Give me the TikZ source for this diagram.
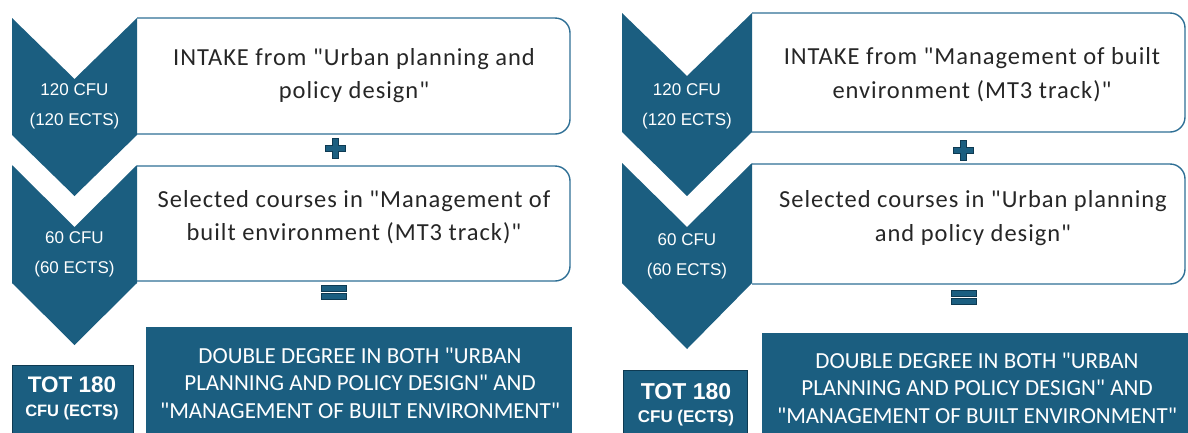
\documentclass[tikz,border=0pt]{standalone}
\usepackage{fontspec}
\setmainfont{Carlito}
\newfontfamily\arialf{Liberation Sans}
\newfontfamily\boxf[LetterSpace=4]{Carlito}
\newfontfamily\ddf{Carlito}
\definecolor{tealblue}{HTML}{1B5E80}
\definecolor{boxline}{HTML}{2E6F95}
\definecolor{darkline}{HTML}{0E3A52}
\definecolor{txtgray}{HTML}{262626}
\begin{document}
\begin{tikzpicture}[x=1pt,y=-1pt,
  chev/.style={fill=tealblue},
  roundbox/.style={draw=boxline,line width=1.4pt,rounded corners=15pt},
  boxtext/.style={text=txtgray,align=center,font=\boxf\fontsize{24.5}{33.5}\selectfont,inner sep=0pt},
  chevtext/.style={text=white,align=center,font=\arialf\fontsize{17}{30}\selectfont,inner sep=0pt},
  ddbox/.style={fill=tealblue},
  ddtext/.style={text=white,align=center,font=\ddf\fontsize{23}{27.5}\selectfont,inner sep=0pt},
  totbox/.style={fill=tealblue,draw=darkline,line width=1pt},
  tottext/.style={text=white,align=center,inner sep=0pt},
  opsym/.style={fill=tealblue,draw=darkline,line width=0.8pt}
]
\useasboundingbox (0,0) rectangle (1188,432);
\clip (0,0) rectangle (1188,432);

% ---------- LEFT PANEL ----------
\draw[roundbox] (137,18) -- (570,18) -- (570,134) -- (137,134);
\draw[roundbox] (137,166) -- (570,166) -- (570,281) -- (137,281);
\fill[chev] (12,18) -- (74.5,79) -- (137,18) -- (137,135) -- (74.5,196) -- (12,135) -- cycle;
\fill[chev] (12,165) -- (74.5,227) -- (137,165) -- (137,283) -- (74.5,345) -- (12,283) -- cycle;
\fill[ddbox] (146,327) rectangle (572,440);
\draw[totbox] (12,365) rectangle (133,440);
% plus
\draw[opsym] (332,138) -- (338,138) -- (338,145) -- (345,145) -- (345,151) -- (338,151) -- (338,158) -- (332,158) -- (332,151) -- (325,151) -- (325,145) -- (332,145) -- cycle;
% equals
\draw[opsym] (321,285) rectangle (346,291);
\draw[opsym] (321,293) rectangle (346,299);

\node[boxtext] (l1t) at (354,75.5) {INTAKE from "Urban planning and\\policy design"};
\node[boxtext] (l2t) at (354,217) {Selected courses in "Management of\\built environment (MT3 track)"};
\node[chevtext] (l1c) at (74.5,106.5) {120 CFU\\(120 ECTS)};
\node[chevtext] (l2c) at (74.5,254) {60 CFU\\(60 ECTS)};
\node[ddtext] (ldd) at (360,383) {DOUBLE DEGREE IN BOTH "URBAN\\PLANNING AND POLICY DESIGN" AND\\"MANAGEMENT OF BUILT ENVIRONMENT"};
\node[tottext,font=\arialf\bfseries\fontsize{22.5}{26}\selectfont] (ltot1) at (72,385) {TOT 180};
\node[tottext,font=\arialf\bfseries\fontsize{16.5}{20}\selectfont] (ltot2) at (72,412) {CFU (ECTS)};

% ---------- RIGHT PANEL ----------
\draw[roundbox] (752,13) -- (1185,13) -- (1185,132) -- (752,132);
\draw[roundbox] (752,164) -- (1185,164) -- (1185,284) -- (752,284);
\fill[chev] (622,13) -- (687,76) -- (752,13) -- (752,132) -- (687,196) -- (622,132) -- cycle;
\fill[chev] (622,163) -- (687,227) -- (752,163) -- (752,283) -- (687,349) -- (622,283) -- cycle;
\fill[ddbox] (762,333) rectangle (1195,440);
\draw[totbox] (623,370) rectangle (747,440);
% plus
\draw[opsym] (960,140) -- (966,140) -- (966,147) -- (973,147) -- (973,153) -- (966,153) -- (966,160) -- (960,160) -- (960,153) -- (953,153) -- (953,147) -- (960,147) -- cycle;
% equals
\draw[opsym] (951,290) rectangle (976,296);
\draw[opsym] (951,298) rectangle (976,304);

\node[boxtext] (r1t) at (972,74.5) {INTAKE from "Management of built\\environment (MT3 track)"};
\node[boxtext] (r2t) at (973,218) {Selected courses in "Urban planning\\and policy design"};
\node[chevtext] (r1c) at (687,106) {120 CFU\\(120 ECTS)};
\node[chevtext] (r2c) at (687,256.5) {60 CFU\\(60 ECTS)};
\node[ddtext] (rdd) at (977,388) {DOUBLE DEGREE IN BOTH "URBAN\\PLANNING AND POLICY DESIGN" AND\\"MANAGEMENT OF BUILT ENVIRONMENT"};
\node[tottext,font=\arialf\bfseries\fontsize{23}{26}\selectfont] (rtot1) at (686,392) {TOT 180};
\node[tottext,font=\arialf\bfseries\fontsize{17}{20}\selectfont] (rtot2) at (686,418) {CFU (ECTS)};
\end{tikzpicture}
\end{document}
